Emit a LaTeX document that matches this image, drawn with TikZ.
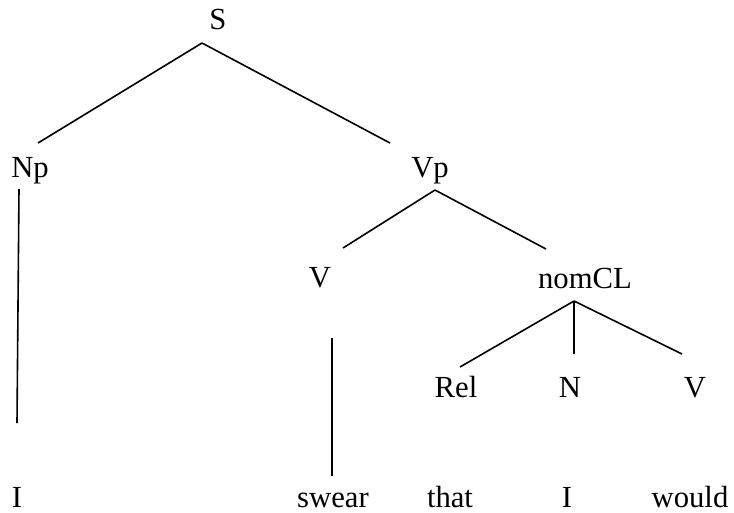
\documentclass[tikz,border=0pt]{standalone}
\usepackage{fontspec}
\setmainfont{Liberation Serif}
\begin{document}
\begin{tikzpicture}[x=0.75pt,y=-0.75pt,
  lbl/.style={anchor=base,inner sep=0pt,font=\fontsize{23}{27}\selectfont},
  edge/.style={line width=1.2pt}]
\useasboundingbox (0,0) rectangle (734,512);
% labels
\node[lbl] (S) at (218,29) {S};
\node[lbl] (Np) at (30,177) {Np};
\node[lbl] (Vp) at (430,177) {Vp};
\node[lbl] (V) at (320,287) {V};
\node[lbl] (nomCL) at (585,288) {nomCL};
\node[lbl] (Rel) at (456,397) {Rel};
\node[lbl] (N) at (570,397) {N};
\node[lbl] (V2) at (695,397) {V};
\node[lbl] (I) at (17,507) {I};
\node[lbl] (swear) at (333,507) {swear};
\node[lbl] (that) at (450,507) {that};
\node[lbl] (I2) at (567,507) {I};
\node[lbl] (would) at (690,507) {would};
% line endpoints
\coordinate (Sb) at (202,43);
\coordinate (Npt) at (38,143);
\coordinate (Vpt) at (390,143);
\coordinate (Npb) at (19,189);
\coordinate (It) at (17,423);
\coordinate (Vpb) at (435,190);
\coordinate (Vt) at (343,248);
\coordinate (nomt) at (546,249);
\coordinate (Vb) at (332,338);
\coordinate (sweart) at (332,476);
\coordinate (nomb) at (574,301);
\coordinate (Relt) at (460,367);
\coordinate (Nt) at (574,354);
\coordinate (V2t) at (682,354);
% connectors
\draw[edge] (Sb) -- (Npt);
\draw[edge] (Sb) -- (Vpt);
\draw[edge] (Npb) -- (It);
\draw[edge] (Vpb) -- (Vt);
\draw[edge] (Vpb) -- (nomt);
\draw[edge] (Vb) -- (sweart);
\draw[edge] (nomb) -- (Relt);
\draw[edge] (nomb) -- (Nt);
\draw[edge] (nomb) -- (V2t);
\end{tikzpicture}
\end{document}
